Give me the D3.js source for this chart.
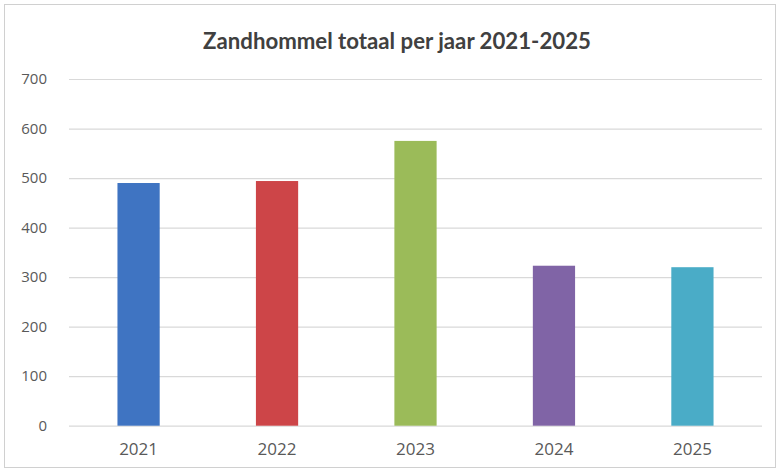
<!DOCTYPE html>
<html><head><meta charset="utf-8">
<script src="https://cdn.jsdelivr.net/npm/d3@7"></script>
<style>body{margin:0;background:#fff}</style>
</head><body>
<svg id="c" width="780" height="472"></svg>
<script>
const categories = ["2021","2022","2023","2024","2025"];
const values = [490, 494, 575, 323, 320];
const colors = ["#3f74c2","#cd4548","#9bbb59","#8064a6","#4aacc7"];
const yTicks = [0,100,200,300,400,500,600,700];
const title = "Zandhommel totaal per jaar 2021-2025";

const svg = d3.select("#c");
svg.append("rect").attr("x",4.5).attr("y",4.5).attr("width",771).attr("height",463)
  .attr("fill","#fff").attr("stroke","#d0d0d0");

const m = {l:69, r:18, t:79, b:46};
const W = 780, H = 472;
const x = d3.scaleBand().domain(categories).range([m.l, W-m.r]).paddingInner(0.695).paddingOuter(0.35);
const y = d3.scaleLinear().domain([0,700]).range([425.7, 79]);

const ya = svg.append("g").attr("transform",`translate(${m.l},0)`)
  .call(d3.axisLeft(y).tickValues(yTicks).tickSize(-(W-m.r-m.l)).tickPadding(22));
ya.select(".domain").remove();
ya.selectAll("line").attr("stroke","#d9d9d9").attr("stroke-width",1.2);
ya.selectAll("text").attr("fill","#595959").attr("font-family","'Open Sans', sans-serif").attr("font-size",15);

svg.append("g").selectAll("rect").data(values).join("rect")
  .attr("x",(d,i)=>x(categories[i])).attr("width",x.bandwidth())
  .attr("y",d=>y(d)).attr("height",d=>y(0)-y(d))
  .attr("fill",(d,i)=>colors[i]);

const xa = svg.append("g").attr("transform",`translate(0,${y(0)})`)
  .call(d3.axisBottom(x).tickSize(0).tickPadding(17));
xa.select(".domain").remove();
xa.selectAll("text").attr("fill","#595959").attr("font-family","'Open Sans', sans-serif").attr("font-size",17);

const t = svg.append("text").attr("x",397).attr("y",49).attr("text-anchor","middle")
  .attr("font-family","Lato, 'Open Sans', sans-serif").attr("font-weight","bold")
  .attr("font-size",20).attr("fill","#404040").text(title);
const w = t.node().getComputedTextLength();
t.attr("font-size", 20*388/w);
</script>
</body></html>
